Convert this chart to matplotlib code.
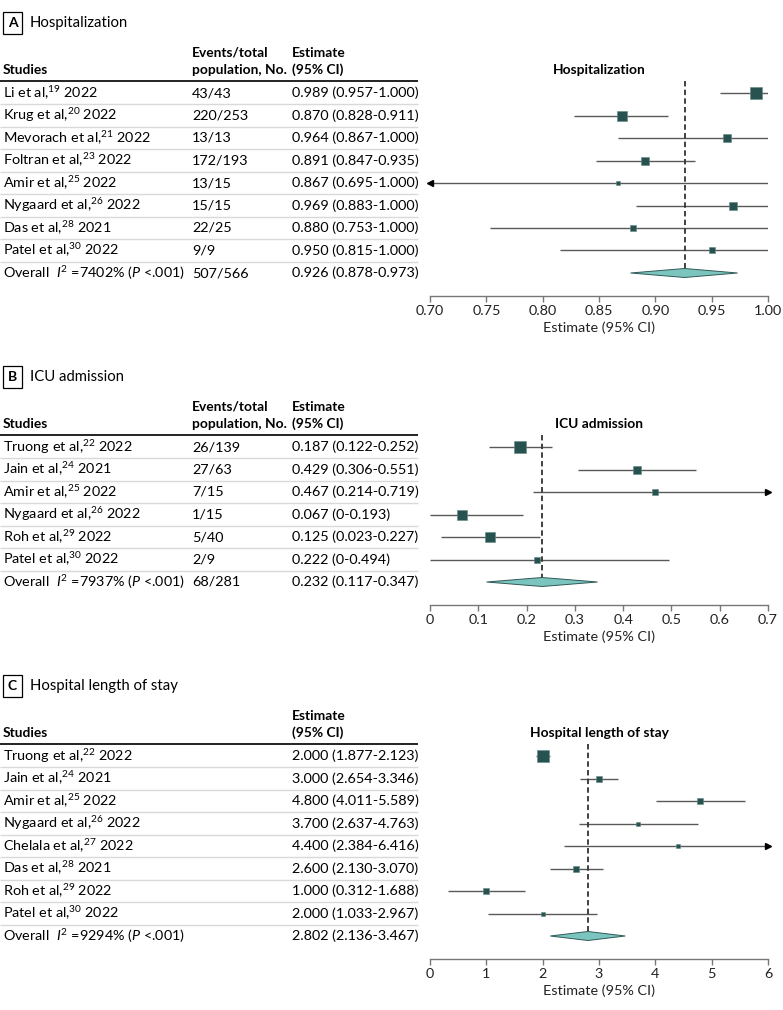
import matplotlib
matplotlib.use('Agg')
import matplotlib.pyplot as plt
from matplotlib.transforms import blended_transform_factory as btf
from matplotlib.patches import Polygon
import numpy as np

plt.rcParams['font.family'] = ['Lato', 'DejaVu Sans']
plt.rcParams['mathtext.fontset'] = 'custom'
plt.rcParams['mathtext.rm'] = 'Lato'
plt.rcParams['mathtext.it'] = 'Lato:italic'
plt.rcParams['mathtext.bf'] = 'Lato:bold'

# ---------------- Panel A: Hospitalization ----------------
a_authors = ["Li", "Krug", "Mevorach", "Foltran", "Amir", "Nygaard", "Das", "Patel"]
a_refs = [19, 20, 21, 23, 25, 26, 28, 30]
a_years = [2022, 2022, 2022, 2022, 2022, 2022, 2021, 2022]
a_events = ["43/43", "220/253", "13/13", "172/193", "13/15", "15/15", "22/25", "9/9"]
a_est = [0.989, 0.870, 0.964, 0.891, 0.867, 0.969, 0.880, 0.950]
a_lo = [0.957, 0.828, 0.867, 0.847, 0.695, 0.883, 0.753, 0.815]
a_hi = [1.000, 0.911, 1.000, 0.935, 1.000, 1.000, 1.000, 1.000]
a_weights = [27.4, 18.4, 11.1, 14.5, 3.6, 11.1, 5.7, 8.2]
a_overall = [0.926, 0.878, 0.973]
a_overall_events = "507/566"
a_i2 = "7402"
a_ticks = [0.70, 0.75, 0.80, 0.85, 0.90, 0.95, 1.00]
a_ticklabels = ["0.70", "0.75", "0.80", "0.85", "0.90", "0.95", "1.00"]

# ---------------- Panel B: ICU admission ----------------
b_authors = ["Truong", "Jain", "Amir", "Nygaard", "Roh", "Patel"]
b_refs = [22, 24, 25, 26, 29, 30]
b_years = [2022, 2021, 2022, 2022, 2022, 2022]
b_events = ["26/139", "27/63", "7/15", "1/15", "5/40", "2/9"]
b_est = [0.187, 0.429, 0.467, 0.067, 0.125, 0.222]
b_lo = [0.122, 0.306, 0.214, 0.0, 0.023, 0.0]
b_hi = [0.252, 0.551, 0.719, 0.193, 0.227, 0.494]
b_weights = [30.0, 15.0, 6.6, 22.0, 19.0, 7.5]
b_overall = [0.232, 0.117, 0.347]
b_overall_events = "68/281"
b_i2 = "7937"
b_ticks = [0, 0.1, 0.2, 0.3, 0.4, 0.5, 0.6, 0.7]
b_ticklabels = ["0", "0.1", "0.2", "0.3", "0.4", "0.5", "0.6", "0.7"]

# ---------------- Panel C: Hospital length of stay ----------------
c_authors = ["Truong", "Jain", "Amir", "Nygaard", "Chelala", "Das", "Roh", "Patel"]
c_refs = [22, 24, 25, 26, 27, 28, 29, 30]
c_years = [2022, 2021, 2022, 2022, 2022, 2021, 2022, 2022]
c_est = [2.000, 3.000, 4.800, 3.700, 4.400, 2.600, 1.000, 2.000]
c_lo = [1.877, 2.654, 4.011, 2.637, 2.384, 2.130, 0.312, 1.033]
c_hi = [2.123, 3.346, 5.589, 4.763, 6.416, 3.070, 1.688, 2.967]
c_weights = [41.9, 15.4, 8.1, 4.7, 4.1, 13.1, 8.1, 4.7]
c_overall = [2.802, 2.136, 3.467]
c_i2 = "9294"
c_ticks = [0, 1, 2, 3, 4, 5, 6]
c_ticklabels = ["0", "1", "2", "3", "4", "5", "6"]

# ---------------- styling ----------------
W, H = 783, 1010
SQ = "#28524f"
DIA = "#7cc5bf"
CI = "#595959"
SEP = "#d9d9d9"
FS = 10.4
HFS = 9.9
ROW = 22.5
X_COL1, X_COL2, X_COL3 = 3, 192, 292
AX_L, AX_R = 430, 768

fig = plt.figure(figsize=(W / 100, H / 100), dpi=100)


def fmt(v):
    return "0" if v == 0 else f"{v:.3f}"


def panel(letter, title, authors, refs, years, events, est, lo, hi, weights,
          overall, overall_events, i2, ticks, ticklabels, row0_px):
    n = len(authors)
    top_px = row0_px - 0.55 * ROW
    bot_px = row0_px + (n + 1) * ROW
    ax = fig.add_axes([AX_L / W, 1 - bot_px / H, (AX_R - AX_L) / W, (bot_px - top_px) / H])
    xmin, xmax = ticks[0], ticks[-1]
    ax.set_xlim(xmin, xmax)
    ax.set_ylim(n + 1.0, -0.55)
    tr = btf(fig.transFigure, ax.transData)
    tra = btf(ax.transAxes, ax.transData)

    # panel label and header
    ax.text(8 / W, -3.1, letter, transform=tr, fontsize=FS - 0.4, fontweight='bold',
            va='center', ha='left',
            bbox=dict(boxstyle='square,pad=0.35', fc='white', ec='black', lw=0.9))
    ax.text(30 / W, -3.1, title, transform=tr, fontsize=FS + 0.3, va='center', ha='left')
    ax.text(X_COL1 / W, -1.02, "Studies", transform=tr, fontsize=HFS, fontweight='bold',
            va='center', ha='left')
    if events is not None:
        ax.text(X_COL2 / W, -1.78, "Events/total", transform=tr, fontsize=HFS,
                fontweight='bold', va='center', ha='left')
        ax.text(X_COL2 / W, -1.02, "population, No.", transform=tr, fontsize=HFS,
                fontweight='bold', va='center', ha='left')
    ax.text(X_COL3 / W, -1.78, "Estimate", transform=tr, fontsize=HFS, fontweight='bold',
            va='center', ha='left')
    ax.text(X_COL3 / W, -1.02, "(95% CI)", transform=tr, fontsize=HFS, fontweight='bold',
            va='center', ha='left')
    ax.text(0.5, -1.02, title, transform=tra, fontsize=HFS, fontweight='bold',
            va='center', ha='center')

    # header rule and separators
    ax.plot([0, 418 / W], [-0.55, -0.55], transform=tr, color='#222222', lw=1.4,
            clip_on=False, solid_capstyle='butt')
    for i in range(n):
        ax.plot([0, 418 / W], [i + 0.5, i + 0.5], transform=tr, color=SEP, lw=1.0,
                clip_on=False, solid_capstyle='butt')

    wmax = max(weights)
    for i in range(n):
        ax.text(X_COL1 / W, i, f"{authors[i]} et al,$^{{{refs[i]}}}$ {years[i]}",
                transform=tr, fontsize=FS, va='center', ha='left')
        if events is not None:
            ax.text(X_COL2 / W, i, events[i], transform=tr, fontsize=FS, va='center', ha='left')
        ax.text(X_COL3 / W, i, f"{est[i]:.3f} ({fmt(lo[i])}-{fmt(hi[i])})", transform=tr,
                fontsize=FS, va='center', ha='left')
        l, h = max(lo[i], xmin), min(hi[i], xmax)
        ax.hlines(i, l, h, color=CI, lw=1.0, zorder=2)
        if lo[i] < xmin:
            ax.plot(xmin, i, marker='<', ms=5, color='black', clip_on=False, zorder=3)
        if hi[i] > xmax:
            ax.plot(xmax, i, marker='>', ms=5, color='black', clip_on=False, zorder=3)
        side_px = 11.5 * np.sqrt(weights[i] / wmax)
        ax.plot(est[i], i, marker='s', ms=side_px * 0.72, color=SQ, mec='#5f8a86',
                mew=0.4, zorder=4)

    # overall row
    k = n
    ax.text(X_COL1 / W, k, f"Overall  $\\mathit{{I}}^{{2}}$ ={i2}% ($\\mathit{{P}}$ <.001)",
            transform=tr, fontsize=FS, va='center', ha='left')
    if events is not None:
        ax.text(X_COL2 / W, k, overall_events, transform=tr, fontsize=FS, va='center', ha='left')
    oe, ol, oh = overall
    ax.text(X_COL3 / W, k, f"{oe:.3f} ({fmt(ol)}-{fmt(oh)})", transform=tr,
            fontsize=FS, va='center', ha='left')
    dh = 0.2
    ax.add_patch(Polygon([[ol, k], [oe, k - dh], [oh, k], [oe, k + dh]], closed=True,
                         fc=DIA, ec='#2f5a57', lw=0.7, zorder=5))
    ax.vlines(oe, -0.55, k, colors='#333333', linestyles=(0, (3.0, 1.8)), lw=1.3, zorder=3)

    # axis styling
    for s in ['top', 'right', 'left']:
        ax.spines[s].set_visible(False)
    ax.spines['bottom'].set_color('#777777')
    ax.spines['bottom'].set_linewidth(1.0)
    ax.set_yticks([])
    ax.set_xticks(ticks)
    ax.set_xticklabels(ticklabels)
    ax.tick_params(axis='x', direction='out', length=4, width=1.0, color='#777777',
                   labelsize=FS, labelcolor='#222222', pad=3)
    ax.set_xlabel("Estimate (95% CI)", fontsize=FS, labelpad=3, color='#222222')
    ax.patch.set_alpha(0)
    return ax


panel("A", "Hospitalization", a_authors, a_refs, a_years, a_events, a_est, a_lo, a_hi,
      a_weights, a_overall, a_overall_events, a_i2, a_ticks, a_ticklabels, 93)
panel("B", "ICU admission", b_authors, b_refs, b_years, b_events, b_est, b_lo, b_hi,
      b_weights, b_overall, b_overall_events, b_i2, b_ticks, b_ticklabels, 447)
panel("C", "Hospital length of stay", c_authors, c_refs, c_years, None, c_est, c_lo, c_hi,
      c_weights, c_overall, None, c_i2, c_ticks, c_ticklabels, 756)

fig.savefig("out.png", dpi=100)
